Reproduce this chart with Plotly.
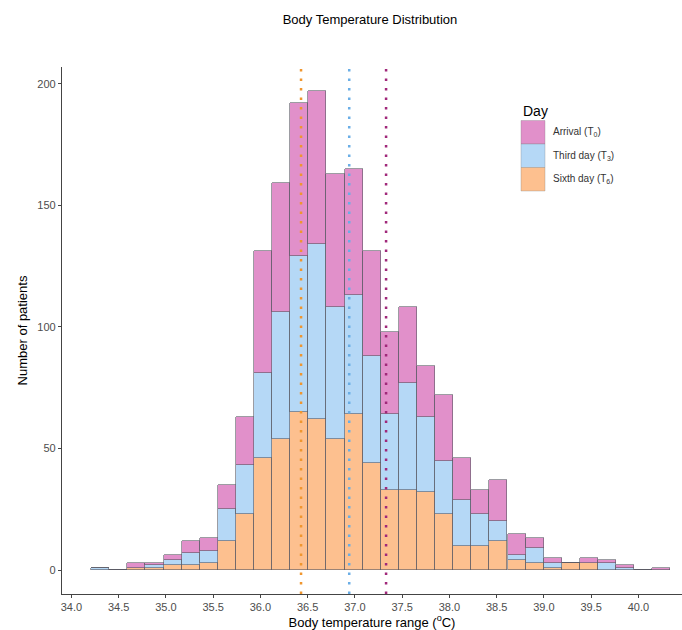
import plotly.graph_objects as go

# ---- data ----
bin_centers = [34.304, 34.496, 34.687, 34.879, 35.071, 35.262, 35.454, 35.645,
               35.837, 36.028, 36.220, 36.412, 36.603, 36.795, 36.986, 37.178,
               37.370, 37.561, 37.753, 37.944, 38.136, 38.328, 38.519, 38.711,
               38.902, 39.094, 39.286, 39.477, 39.669, 39.860, 40.052, 40.244]
bin_width = 0.1916

sixth_day = [0, 0, 1, 1, 2, 2, 3, 12, 23, 46, 54, 65, 62, 54, 64, 44,
             33, 33, 32, 23, 10, 10, 12, 4, 3, 1, 3, 3, 0, 0, 0, 0]
third_day = [1, 0, 0, 1, 2, 5, 5, 13, 20, 35, 52, 64, 72, 54, 49, 44,
             31, 44, 31, 22, 19, 13, 8, 2, 6, 2, 0, 0, 3, 1, 0, 0]
arrival = [0, 0, 2, 1, 2, 5, 5, 10, 20, 50, 53, 63, 63, 55, 52, 43,
           34, 31, 21, 27, 17, 10, 17, 9, 4, 2, 0, 2, 1, 1, 0, 1]

series_names = ["Arrival (T<sub>0</sub>)", "Third day (T<sub>3</sub>)", "Sixth day (T<sub>6</sub>)"]
series_fill = ["#E190CA", "#B5D8F6", "#FDC08F"]
mean_values = [37.33, 36.94, 36.43]          # T0, T3, T6
mean_colors = ["#A0287A", "#6AAEE6", "#F0962E"]

x_ticks = [34.0, 34.5, 35.0, 35.5, 36.0, 36.5, 37.0, 37.5, 38.0, 38.5, 39.0, 39.5, 40.0]
y_ticks = [0, 50, 100, 150, 200]

FONT = "Liberation Sans, Arial, sans-serif"
W, H = 682, 630
L, R, T, B = 62, 0, 67, 36

fig = go.Figure()
outline = dict(color="rgba(90,90,100,0.75)", width=0.8)
for name, vals, col in [(series_names[2], sixth_day, series_fill[2]),
                        (series_names[1], third_day, series_fill[1]),
                        (series_names[0], arrival, series_fill[0])]:
    fig.add_trace(go.Bar(x=bin_centers, y=vals, width=bin_width, name=name,
                         marker=dict(color=col, line=outline), showlegend=False))

for m, c in zip(mean_values, mean_colors):
    fig.add_shape(type="line", xref="x", yref="paper", x0=m, x1=m, y0=0, y1=1,
                  line=dict(color=c, width=2.5, dash="2.5px,7px"), layer="above")

# manual legend (ggplot style)
def px_x(px):
    return (px - L) / (W - L - R)

def px_y(py):
    return (H - B - py) / (H - T - B)

fig.add_annotation(xref="paper", yref="paper", x=px_x(521), y=px_y(111),
                   text="Day", showarrow=False, xanchor="left", yanchor="middle",
                   font=dict(family=FONT, size=14, color="#000"))
key_top = 120.5
key_h = 23.5
for i, (name, col) in enumerate(zip(series_names, series_fill)):
    y0 = key_top + i * key_h
    fig.add_shape(type="rect", xref="paper", yref="paper",
                  x0=px_x(521), x1=px_x(545), y0=px_y(y0 + key_h), y1=px_y(y0),
                  fillcolor=col, line=dict(color="rgba(120,120,120,0.5)", width=0.6))
    fig.add_annotation(xref="paper", yref="paper", x=px_x(551), y=px_y(y0 + key_h / 2),
                       text=name, showarrow=False, xanchor="left", yanchor="middle",
                       font=dict(family=FONT, size=10, color="#333"))

fig.update_layout(
    width=W, height=H, barmode="stack", bargap=0,
    paper_bgcolor="white", plot_bgcolor="white",
    margin=dict(l=L, r=R, t=T, b=B, pad=0),
    font=dict(family=FONT, size=11, color="#4D4D4D"),
    title=dict(text="Body Temperature Distribution", x=370 / W, xanchor="center",
               y=1 - 19 / H, yanchor="middle", yref="container",
               font=dict(family=FONT, size=13, color="#000")),
    xaxis=dict(range=[33.90, 40.462], tickvals=x_ticks, tickformat=".1f",
               showgrid=False, zeroline=False, showline=True, linecolor="#444",
               linewidth=1.3, ticks="outside", ticklen=3, tickcolor="#444",
               tickfont=dict(family=FONT, size=11, color="#4D4D4D"),
               title=dict(text="Body temperature range (<sup>o</sup>C)", standoff=2,
                          font=dict(family=FONT, size=13, color="#000"))),
    yaxis=dict(range=[-9.85, 206.85], tickvals=y_ticks, showgrid=False,
               zeroline=False, showline=True, linecolor="#444", linewidth=1.3,
               ticks="outside", ticklen=3, tickcolor="#444",
               tickfont=dict(family=FONT, size=11, color="#4D4D4D"),
               title=dict(text="Number of patients", standoff=6,
                          font=dict(family=FONT, size=13, color="#000"))),
)

fig.write_html("out.html")
